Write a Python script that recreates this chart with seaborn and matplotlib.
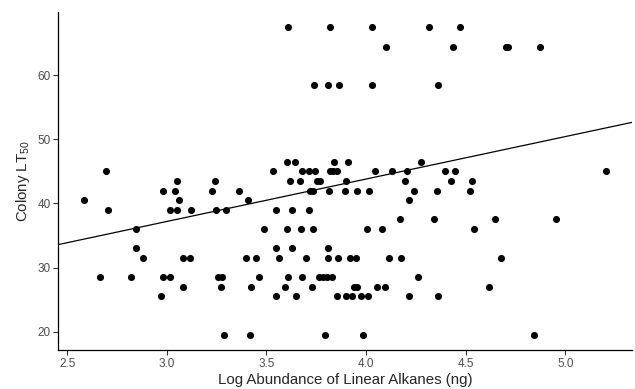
import numpy as np
import pandas as pd
import matplotlib
matplotlib.use('Agg')
import matplotlib.pyplot as plt
import seaborn as sns

# Log alkane abundance (x) and colony LT50 (y)
alkanes = [
    3.608, 3.817, 4.03, 4.318, 4.472,                       # 67.5
    4.10, 4.438, 4.70, 4.71, 4.872,                         # 64.5
    3.737, 3.807, 3.865, 4.03, 4.36,                        # 58.5
    3.602, 3.642, 3.837, 3.91, 4.278,                       # 46.5
    2.697, 3.535, 3.677, 3.712, 3.745, 3.817, 3.835,
    3.852, 4.043, 4.13, 4.205, 4.397, 4.445, 5.203,         # 45
    3.052, 3.243, 3.617, 3.667, 3.755, 3.768, 3.897,
    4.197, 4.425, 4.53,                                     # 43.5
    2.983, 3.043, 3.228, 3.36, 3.718, 3.733, 3.813,
    3.892, 3.955, 4.013, 4.242, 4.357, 4.523,               # 42
    2.587, 3.06, 3.408, 4.215,                              # 40.5
    2.703, 3.017, 3.052, 3.123, 3.245, 3.298, 3.548,
    3.63, 3.713,                                            # 39
    4.168, 4.343, 4.648, 4.953,                             # 37.5
    2.847, 3.488, 3.603, 3.675, 3.732, 4.005, 4.078, 4.543, # 36
    2.847, 3.55, 3.63, 3.808,                               # 33
    2.88, 3.08, 3.115, 3.397, 3.447, 3.565, 3.698,
    3.81, 3.86, 3.917, 3.952, 4.117, 4.173, 4.678,          # 31.5
    2.667, 2.818, 2.98, 3.015, 3.258, 3.278, 3.465,
    3.607, 3.68, 3.762, 3.785, 3.805, 3.828, 4.262,         # 28.5
    3.083, 3.27, 3.425, 3.595, 3.728, 3.942, 3.953,
    4.053, 4.095, 4.615,                                    # 27
    2.972, 3.547, 3.65, 3.852, 3.9, 3.93, 3.977,
    4.01, 4.217, 4.362,                                     # 25.5
    3.285, 3.417, 3.795, 3.987, 4.845,                      # 19.5
]
lt50 = (
    [67.5] * 5 + [64.5] * 5 + [58.5] * 5 + [46.5] * 5
    + [45.0] * 14 + [43.5] * 10 + [42.0] * 13 + [40.5] * 4
    + [39.0] * 9 + [37.5] * 4 + [36.0] * 8 + [33.0] * 4
    + [31.5] * 14 + [28.5] * 14 + [27.0] * 10 + [25.5] * 10
    + [19.5] * 5
)
# fitted line as shown in the figure (model estimate, not a plain OLS on the points)
fit_intercept = 17.3
fit_slope = 6.63

x_ticks = [2.5, 3.0, 3.5, 4.0, 4.5, 5.0]
y_ticks = [20, 30, 40, 50, 60]

df = pd.DataFrame({'alkanes': alkanes, 'lt50': lt50})

sns.set_style('ticks')
plt.rcParams['font.family'] = ['Liberation Sans', 'DejaVu Sans']

fig, ax = plt.subplots(figsize=(6.35, 3.89), dpi=100)
fig.subplots_adjust(left=0.092, right=0.995, top=0.969, bottom=0.100)

sns.scatterplot(data=df, x='alkanes', y='lt50', ax=ax, s=26,
                color='black', linewidth=0)
ax.axline((0, fit_intercept), slope=fit_slope, color='black', linewidth=0.9)

# limits like ggplot (5% padding)
xr = max(alkanes) - min(alkanes)
yr = max(lt50) - min(lt50)
ax.set_xlim(min(alkanes) - 0.05 * xr, max(alkanes) + 0.05 * xr)
ax.set_ylim(min(lt50) - 0.05 * yr, max(lt50) + 0.05 * yr)

ax.set_xticks(x_ticks)
ax.set_xticklabels([f'{t:.1f}' for t in x_ticks])
ax.set_yticks(y_ticks)
ax.tick_params(axis='both', labelsize=8.5, labelcolor='#4D4D4D',
               color='#333333', length=3.5, width=0.8, pad=2)
for s in ['left', 'bottom']:
    ax.spines[s].set_linewidth(0.9)
    ax.spines[s].set_color('black')
sns.despine(ax=ax)

ax.set_xlabel('Log Abundance of Linear Alkanes (ng)', fontsize=10.8, labelpad=2)
ax.set_ylabel(r'Colony LT$_{\mathregular{50}}$', fontsize=10.8, labelpad=4)

plt.savefig('out.png', dpi=100)
